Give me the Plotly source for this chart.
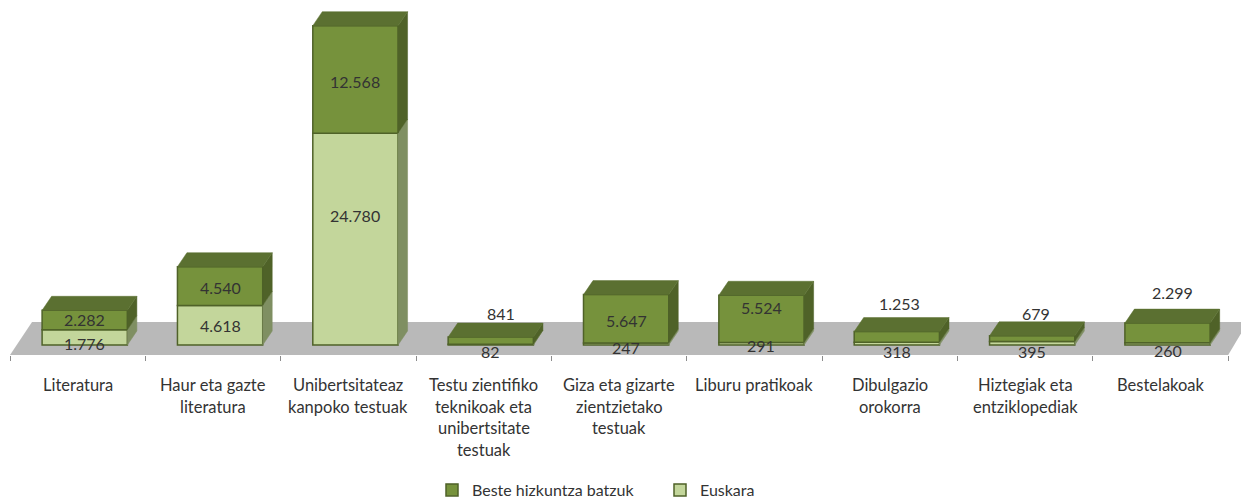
import plotly.graph_objects as go

# ---------- data ----------
categories = [
    ["Literatura"],
    ["Haur eta gazte", "literatura"],
    ["Unibertsitateaz", "kanpoko testuak"],
    ["Testu zientifiko", "teknikoak eta", "unibertsitate", "testuak"],
    ["Giza eta gizarte", "zientzietako", "testuak"],
    ["Liburu pratikoak"],
    ["Dibulgazio", "orokorra"],
    ["Hiztegiak eta", "entziklopediak"],
    ["Bestelakoak"],
]
euskara = [1776, 4618, 24780, 82, 247, 291, 318, 395, 260]
beste = [2282, 4540, 12568, 841, 5647, 5524, 1253, 679, 2299]

# label nudges in screen pixels (original chart moved its labels by hand)
euskara_dy = [-5.6, -0.7, 23.2, -6.4, -4, -2.2, -7.4, -7.7, -7.1]
beste_dy = [1, -1.8, -2.3, 27.7, -2.2, 11.9, 33, 25.7, 40]
beste_dx = [0, 0, 0, 10, 0, 0, 3, 4, 5]

# ---------- styling / layout constants ----------
W, H = 1241, 501
PX_PER_UNIT = 0.00855
PX_PER_CAT = 135.35
X0_PX = 77.7          # pixel of category 0
BASE_PX = 345
AXIS_PX = 355
bar_w = 0.63
bar_off = 0.052
dx = 9.5 / PX_PER_CAT
dy = 14 / PX_PER_UNIT
C_E, C_E_SIDE = "#c3d69b", "#7f8f62"
C_B, C_B_SIDE, C_B_TOP = "#76923c", "#4f6228", "#5b7031"
EDGE = "#4f6228"
FONT = "Lato, Carlito, sans-serif"
TXT = "#333333"

n = len(categories)
xs = [i + bar_off for i in range(n)]
fig = go.Figure()


def poly(px, py, color):
    fig.add_trace(go.Scatter(x=px + px[:1], y=py + py[:1], mode="lines", fill="toself",
                             fillcolor=color, line=dict(color=color, width=0.5),
                             showlegend=False, hoverinfo="skip"))


fig.add_trace(go.Bar(name="Euskara", x=xs, y=euskara, width=bar_w, marker=dict(color=C_E, line=dict(color=EDGE, width=1.5))))
fig.add_trace(go.Bar(name="Beste hizkuntza batzuk", x=xs, y=beste, base=euskara, width=bar_w,
                     marker=dict(color=C_B, line=dict(color=EDGE, width=1.5))))

for x, e, b in zip(xs, euskara, beste):
    r = x + bar_w / 2
    l = x - bar_w / 2
    poly([r, r + dx, r + dx, r], [0, dy, e + dy, e], C_E_SIDE)
    poly([r, r + dx, r + dx, r], [e, e + dy, e + b + dy, e + b], C_B_SIDE)
    poly([l, l + dx, r + dx, r], [e + b, e + b + dy, e + b + dy, e + b], C_B_TOP)

y_axis = -(AXIS_PX - BASE_PX) / PX_PER_UNIT
y_back = (BASE_PX - 322) / PX_PER_UNIT
xmin = -X0_PX / PX_PER_CAT
xmax = (W - X0_PX) / PX_PER_CAT
floor = (f"M -0.5 {y_axis} L {-0.5 + 22 / PX_PER_CAT} {y_back} L {xmax} {y_back} "
         f"L {xmax} {y_axis + (y_back - y_axis) * 0.65} L {n - 0.5} {y_axis} Z")

annotations = []


def fmt(v):
    return f"{v:,}".replace(",", ".")


for i in range(n):
    annotations.append(dict(x=xs[i], y=euskara[i] / 2, text=fmt(euskara[i]), showarrow=False,
                            yshift=euskara_dy[i], font=dict(family=FONT, size=16, color=TXT)))
    annotations.append(dict(x=xs[i], y=euskara[i] + beste[i] / 2, text=fmt(beste[i]), showarrow=False,
                            xshift=beste_dx[i], yshift=beste_dy[i], font=dict(family=FONT, size=16, color=TXT)))
    for j, line in enumerate(categories[i]):
        annotations.append(dict(x=i, y=0, yref="paper", text=line, showarrow=False, yanchor="middle",
                                yshift=-(30 + 21.6 * j), font=dict(family=FONT, size=16.5, color=TXT)))

fig.update_layout(
    width=W, height=H, autosize=False,
    margin=dict(l=0, r=0, t=0, b=H - AXIS_PX),
    paper_bgcolor="white", plot_bgcolor="white",
    barmode="overlay", showlegend=True,
    xaxis=dict(range=[xmin, xmax], showgrid=False, zeroline=False, showline=False,
               tickmode="array", tickvals=[], showticklabels=False,
               minor=dict(tick0=-0.5, dtick=1, ticks="outside", ticklen=5, tickcolor="#8c8c8c", tickwidth=1, showgrid=False)),
    yaxis=dict(range=[y_axis, BASE_PX / PX_PER_UNIT], showgrid=False, zeroline=False, showline=False,
               showticklabels=False, ticks=""),
    shapes=[dict(type="path", path=floor, xref="x", yref="y", layer="below", fillcolor="#b9b9b9", line=dict(width=0))],
    annotations=annotations,
    legend=dict(orientation="h", xref="container", yref="container", x=432 / W, xanchor="left",
                y=(H - 473) / H, yanchor="top",
                traceorder="reversed", entrywidth=183, entrywidthmode="pixels",
                font=dict(family=FONT, size=16, color=TXT), bgcolor="rgba(0,0,0,0)"),
)

fig.write_html("out.html", config=dict(displayModeBar=False), post_script="document.body.style.margin='0';")
